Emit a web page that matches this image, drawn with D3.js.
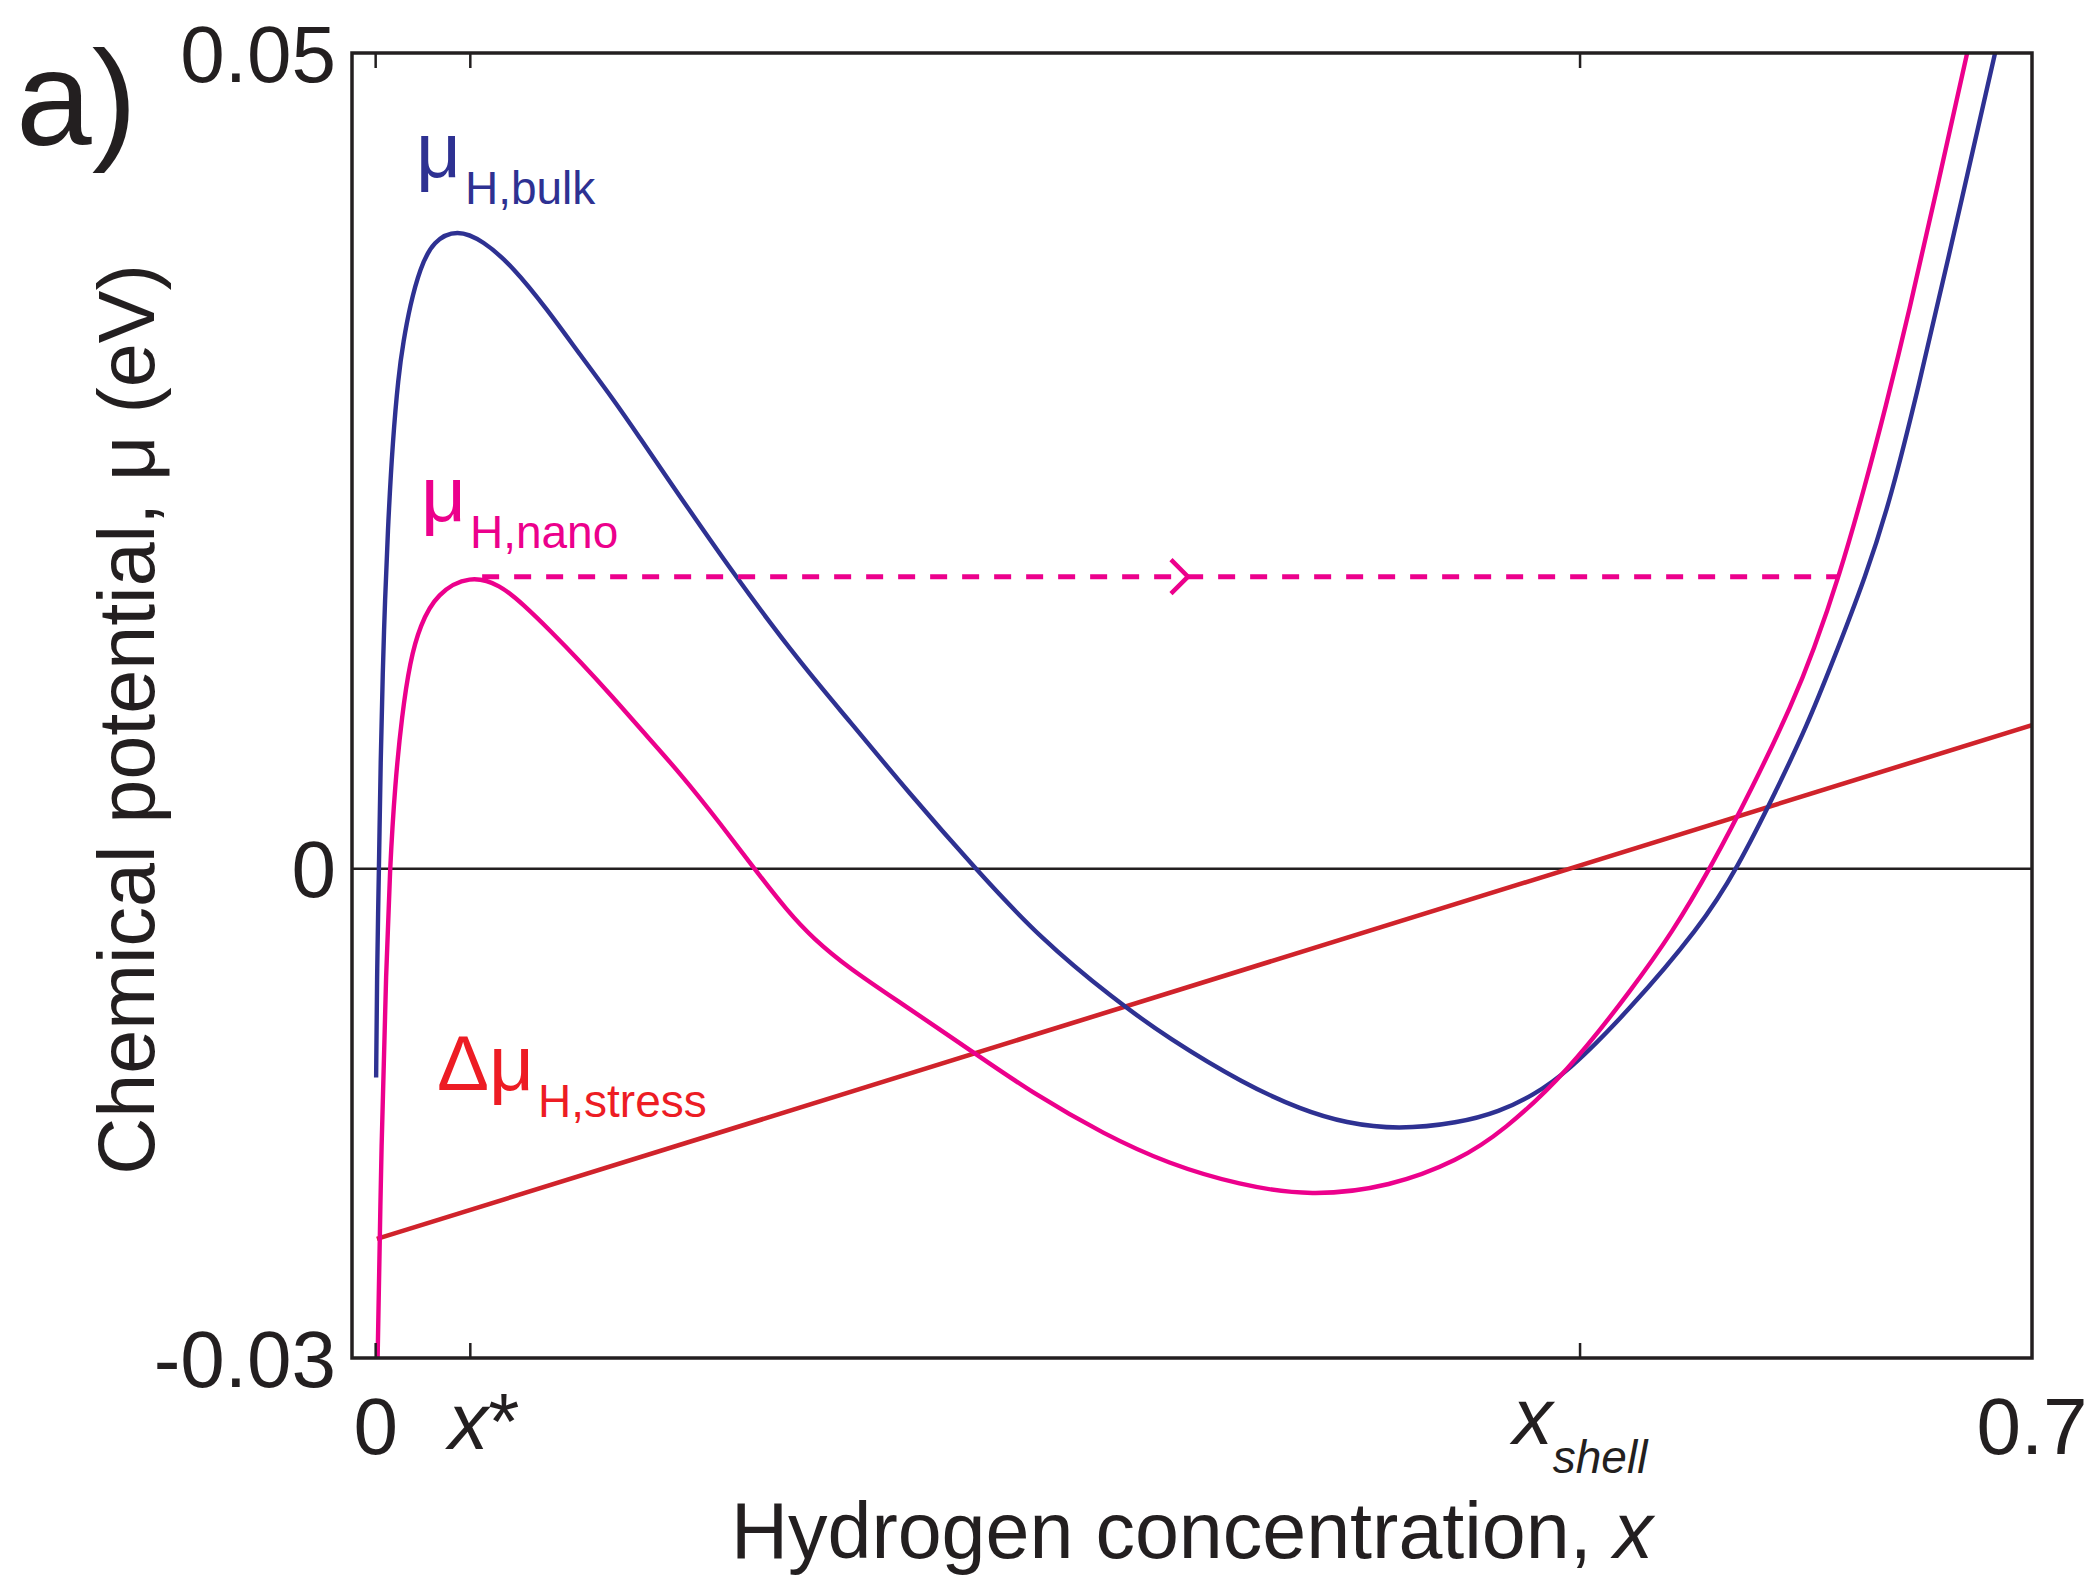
<!DOCTYPE html>
<html>
<head>
<meta charset="utf-8">
<script src="https://cdn.jsdelivr.net/npm/d3@7"></script>
<style>
  html, body { margin: 0; padding: 0; background: #ffffff; }
  svg { display: block; }
  text { font-family: "Liberation Sans", Arial, Helvetica, sans-serif; fill: #231f20; }
</style>
</head>
<body>
<svg id="chart" width="2092" height="1576"></svg>
<script>
// ---------------- data (x = hydrogen concentration, y = chemical potential in eV) ----------------
const bulkX = [0.0002, 0.0006, 0.0014, 0.0021, 0.0030, 0.0039, 0.0053, 0.0072, 0.0096, 0.0117, 0.0145,
  0.0187, 0.0244, 0.0344, 0.0454, 0.058, 0.0724, 0.0864, 0.1003, 0.1117, 0.123, 0.151, 0.18, 0.2, 0.225,
  0.2534, 0.281, 0.312, 0.335, 0.367, 0.3915, 0.41, 0.432, 0.4575, 0.475, 0.489, 0.5035, 0.529, 0.5597,
  0.5754, 0.592, 0.605, 0.615, 0.63, 0.6405, 0.652, 0.664, 0.6844];
const bulkY = [-0.0128, -0.006, 0.0, 0.0067, 0.0121, 0.0163, 0.0213, 0.0262, 0.0302, 0.0323, 0.0345,
  0.0368, 0.0385, 0.0392, 0.0385, 0.0369, 0.0343, 0.0315, 0.0288, 0.0264, 0.0240, 0.0181, 0.0125, 0.0091, 0.0047,
  0.0, -0.0043, -0.0080, -0.0104, -0.0132, -0.0148, -0.0156, -0.0160, -0.0156, -0.0149, -0.0139, -0.0125, -0.0088, -0.0036,
  0.0, 0.0048, 0.0088, 0.0124, 0.0180, 0.0228, 0.0295, 0.0370, 0.0500];

const nanoX = [0.0006, 0.0025, 0.0045, 0.006, 0.0082, 0.0111, 0.0145, 0.0187, 0.0259, 0.0399, 0.0526,
  0.0623, 0.0737, 0.0864, 0.1003, 0.1117, 0.129, 0.146, 0.16, 0.174, 0.185, 0.2, 0.2216, 0.253, 0.278,
  0.308, 0.335, 0.365, 0.3953, 0.429, 0.4575, 0.4765, 0.5035, 0.5314, 0.548, 0.564, 0.582, 0.599,
  0.6075, 0.6185, 0.6295, 0.638, 0.648, 0.66, 0.6726];
const nanoY = [-0.032, -0.016, -0.006, 0.0, 0.0052, 0.0094, 0.0127, 0.0149, 0.0169, 0.0180, 0.0174,
  0.0162, 0.0146, 0.0127, 0.0105, 0.0086, 0.0058, 0.0027, 0.0, -0.0026, -0.0043, -0.0061, -0.0082, -0.0113, -0.0138,
  -0.0163, -0.0181, -0.0194, -0.0201, -0.0195, -0.0179, -0.0161, -0.0125, -0.0073, -0.0039, 0.0, 0.0050, 0.0102,
  0.0133, 0.0179, 0.0235, 0.0282, 0.0341, 0.0418, 0.0500];

const stressX = [0.0005, 0.70];
const stressY = [-0.0227, 0.0088];

// dashed transfer arrow at the nano peak level
const arrowX = [0.045, 0.6185];
const arrowY = [0.0179, 0.0179];
const arrowHeadX = 0.3433;

// axis ticks
const xTickValues = [0, 0.04, 0.509, 0.7];
const xTickLabels = ["0", "x*", "x_shell", "0.7"];
const yTickValues = [0.05, 0, -0.03];
const yTickLabels = ["0.05", "0", "-0.03"];

const xDomain = [-0.01, 0.70];
const yDomain = [-0.03, 0.05];

// ---------------- layout ----------------
const W = 2092, H = 1576;
const margin = { left: 352, right: 60, top: 53, bottom: 218 };
const iw = W - margin.left - margin.right;
const ih = H - margin.top - margin.bottom;

const colBlue = "#2e3192", colPink = "#ec008c", colRedLine = "#d0232b", colRedText = "#ed1c24", colInk = "#231f20";

const svg = d3.select("#chart");
const x = d3.scaleLinear().domain(xDomain).range([margin.left, margin.left + iw]);
const y = d3.scaleLinear().domain(yDomain).range([margin.top + ih, margin.top]);

svg.append("defs").append("clipPath").attr("id", "plotclip")
  .append("rect").attr("x", margin.left).attr("y", margin.top).attr("width", iw).attr("height", ih);

const plot = svg.append("g").attr("clip-path", "url(#plotclip)");

// zero line
plot.append("line")
  .attr("x1", margin.left).attr("x2", margin.left + iw)
  .attr("y1", y(0)).attr("y2", y(0))
  .attr("stroke", colInk).attr("stroke-width", 2.5);

const line = d3.line().x(d => x(d[0])).y(d => y(d[1])).curve(d3.curveBasis);

const stressData = d3.zip(stressX, stressY);
const bulkData = d3.zip(bulkX, bulkY);
const nanoData = d3.zip(nanoX, nanoY);

plot.append("path").datum(stressData).attr("d", d3.line().x(d => x(d[0])).y(d => y(d[1])))
  .attr("fill", "none").attr("stroke", colRedLine).attr("stroke-width", 4.6);
plot.append("path").datum(bulkData).attr("d", line)
  .attr("fill", "none").attr("stroke", colBlue).attr("stroke-width", 4.4).attr("stroke-linejoin", "round");
plot.append("path").datum(nanoData).attr("d", line)
  .attr("fill", "none").attr("stroke", colPink).attr("stroke-width", 4.4).attr("stroke-linejoin", "round");

// dashed arrow
plot.append("line")
  .attr("x1", x(arrowX[0])).attr("x2", x(arrowX[1]))
  .attr("y1", y(arrowY[0])).attr("y2", y(arrowY[1]))
  .attr("stroke", colPink).attr("stroke-width", 5).attr("stroke-dasharray", "17,15");
const ax = x(arrowHeadX), ay = y(arrowY[0]);
plot.append("path")
  .attr("d", `M${ax - 17},${ay - 17} L${ax},${ay} L${ax - 17},${ay + 17}`)
  .attr("fill", "none").attr("stroke", colPink).attr("stroke-width", 4.5);

// frame
svg.append("rect")
  .attr("x", margin.left).attr("y", margin.top).attr("width", iw).attr("height", ih)
  .attr("fill", "none").attr("stroke", colInk).attr("stroke-width", 3.5);

// x ticks (inward, bottom and top)
const tickLen = 15;
xTickValues.forEach(v => {
  if (v >= xDomain[1]) return;
  svg.append("line").attr("x1", x(v)).attr("x2", x(v))
    .attr("y1", margin.top + ih).attr("y2", margin.top + ih - tickLen)
    .attr("stroke", colInk).attr("stroke-width", 2.5);
  svg.append("line").attr("x1", x(v)).attr("x2", x(v))
    .attr("y1", margin.top).attr("y2", margin.top + tickLen)
    .attr("stroke", colInk).attr("stroke-width", 2.5);
});

// x tick labels
const fs = 80;
const xl = svg.append("g").attr("font-size", fs);
xTickValues.forEach((v, i) => {
  const lab = xTickLabels[i];
  const base = margin.top + ih + 96;
  if (lab === "x*") {
    const t = xl.append("text").attr("x", x(v) - 22).attr("y", base - 5).attr("text-anchor", "start");
    t.append("tspan").attr("font-style", "italic").text("x");
    t.append("tspan").text("*");
  } else if (lab === "x_shell") {
    const t = xl.append("text").attr("x", x(v)).attr("y", base - 10).attr("text-anchor", "middle");
    t.append("tspan").attr("font-style", "italic").text("x");
    t.append("tspan").attr("font-style", "italic").attr("font-size", 46).attr("dy", 29).text("shell");
  } else {
    xl.append("text").attr("x", x(v)).attr("y", base).attr("text-anchor", "middle").text(lab);
  }
});

// y tick labels
yTickValues.forEach((v, i) => {
  svg.append("text").attr("x", margin.left - 16).attr("y", y(v)).attr("dy", "0.36em")
    .attr("text-anchor", "end").attr("font-size", fs).text(yTickLabels[i]);
});

// axis titles
const xt = svg.append("text").attr("x", margin.left + iw / 2).attr("y", 1558)
  .attr("text-anchor", "middle").attr("font-size", 79);
xt.append("tspan").text("Hydrogen concentration, ");
xt.append("tspan").attr("font-style", "italic").text("x");

svg.append("text").attr("transform", `translate(154,${margin.top + ih / 2 + 14}) rotate(-90)`)
  .attr("text-anchor", "middle").attr("font-size", 79).text("Chemical potential, μ (eV)");

// panel label
svg.append("text").attr("x", 16).attr("y", 145).attr("font-size", 136).text("a)");

// curve labels
function curveLabel(px, py, main, sub, color) {
  const t = svg.append("text").attr("x", px).attr("y", py).attr("font-size", 78).style("fill", color);
  t.append("tspan").text(main);
  t.append("tspan").attr("font-size", 46).attr("dy", 27).attr("dx", 4).text(sub);
}
curveLabel(416, 177, "μ", "H,bulk", colBlue);
curveLabel(421, 521, "μ", "H,nano", colPink);
curveLabel(437, 1090, "Δμ", "H,stress", colRedText);
</script>
</body>
</html>
